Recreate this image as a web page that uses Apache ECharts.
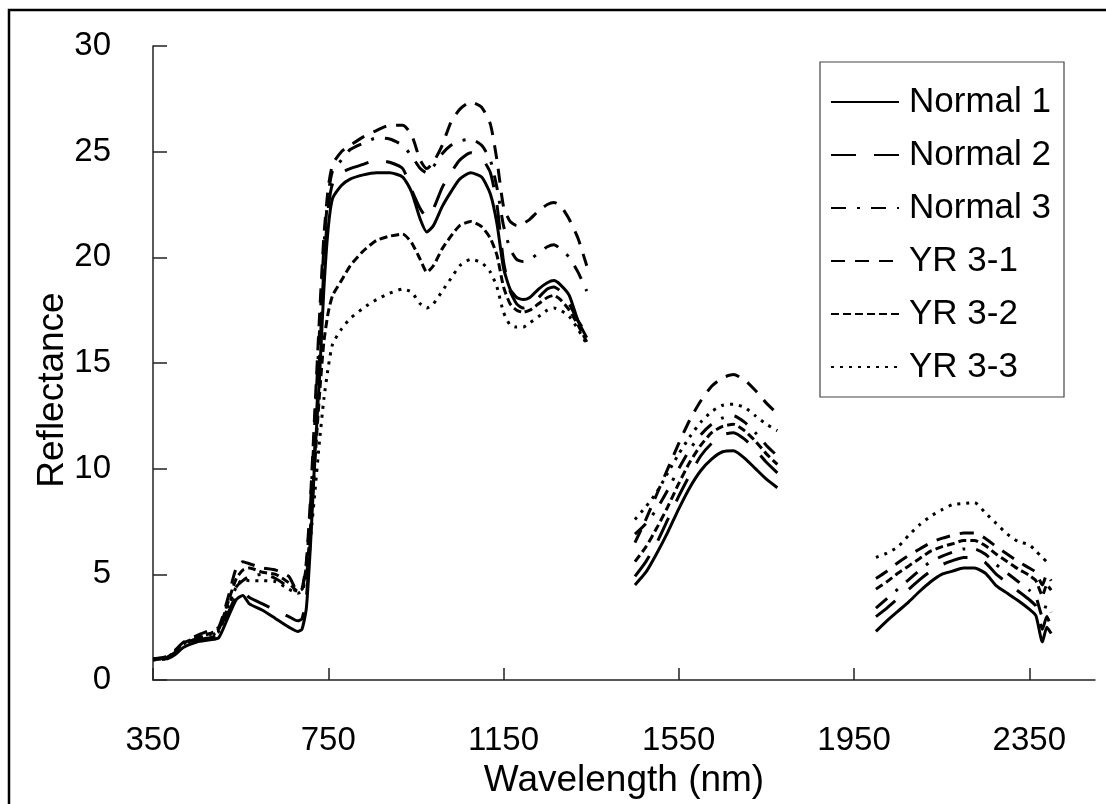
<!DOCTYPE html>
<html>
<head>
<meta charset="utf-8">
<script src="https://cdn.jsdelivr.net/npm/echarts@6/dist/echarts.min.js"></script>
<style>
html,body{margin:0;padding:0;background:#fff;}
#chart{width:1106px;height:804px;}
</style>
</head>
<body>
<div id="chart"></div>
<script>
// ---- Data ----
const seriesNames = ['Normal 1', 'Normal 2', 'Normal 3', 'YR 3-1', 'YR 3-2', 'YR 3-3'];
const xTicks = [350, 750, 1150, 1550, 1950, 2350];
const yTicks = [0, 5, 10, 15, 20, 25, 30];

// wavelengths (nm) of the three measured segments
const wlA = [350,380,400,420,450,480,500,520,540,555,570,600,630,660,680,690,700,710,720,730,740,750,760,780,800,830,860,890,920,940,960,975,990,1010,1030,1050,1075,1100,1120,1135,1150,1165,1180,1195,1210,1230,1250,1265,1280,1300,1320,1340];
const wlB = [1450,1475,1500,1525,1550,1575,1600,1625,1650,1675,1700,1725,1750,1775];
const wlC = [2000,2025,2050,2075,2100,2125,2150,2175,2200,2225,2250,2275,2300,2325,2350,2365,2380,2390,2400];

// Normal 1
const normal1A = [1.0,1.0,1.2,1.55,1.8,1.9,2.0,2.9,3.8,4.0,3.6,3.3,2.9,2.5,2.3,2.4,3.4,6.6,10.8,14.3,18.5,21.4,22.8,23.4,23.7,23.9,24.0,24.0,23.8,23.1,21.8,21.2,21.5,22.4,23.1,23.7,24.0,23.8,23.0,21.6,19.5,18.5,18.1,18.0,18.1,18.5,18.8,18.9,18.7,18.2,17.0,16.2];
const normal1B = [4.5,5.1,6.0,7.0,8.1,9.1,9.9,10.45,10.8,10.85,10.5,10.0,9.5,9.1];
const normal1C = [2.3,2.8,3.25,3.7,4.2,4.65,5.0,5.15,5.3,5.3,5.05,4.45,4.1,3.75,3.35,3.05,1.8,2.5,2.2];
// Normal 2
const normal2A = [1.0,1.05,1.3,1.65,1.9,2.0,2.15,3.1,4.0,4.2,3.9,3.6,3.3,3.0,2.8,2.9,3.9,7.0,11.3,15.2,19.5,22.3,23.5,24.0,24.2,24.4,24.6,24.5,24.2,23.2,22.3,21.9,22.3,23.3,24.0,24.6,24.95,24.7,24.0,22.5,19.8,18.4,17.8,17.6,17.7,18.1,18.5,18.6,18.4,17.8,17.0,16.4];
const normal2B = [4.9,5.6,6.5,7.6,8.7,9.7,10.6,11.2,11.6,11.7,11.4,10.9,10.3,9.8];
const normal2C = [3.0,3.4,3.85,4.3,4.75,5.15,5.45,5.65,5.8,5.8,5.55,5.0,4.6,4.2,3.8,3.5,2.4,3.0,2.5];
// Normal 3
const normal3A = [1.0,1.05,1.35,1.7,1.95,2.1,2.3,3.4,4.4,4.7,4.9,5.0,4.8,4.4,4.2,4.3,5.4,8.5,12.5,16.5,20.5,23.0,24.1,24.6,25.1,25.4,25.65,25.6,25.3,24.8,24.2,24.0,24.3,24.9,25.3,25.5,25.6,25.3,24.6,23.3,21.5,20.4,19.9,19.8,19.9,20.2,20.5,20.6,20.4,20.0,19.3,18.4];
const normal3B = [6.9,7.4,8.1,9.0,10.0,10.9,11.6,12.1,12.4,12.5,12.2,11.7,11.1,10.6];
const normal3C = [3.4,3.85,4.3,4.75,5.2,5.6,5.85,6.05,6.2,6.2,5.95,5.45,5.05,4.65,4.25,3.95,3.0,3.6,3.2];
// YR 3-1
const yr31A = [1.0,1.1,1.4,1.8,2.1,2.35,2.5,3.8,5.3,5.6,5.5,5.3,5.2,4.9,4.2,4.3,5.6,8.8,13.0,17.2,21.0,23.3,24.4,25.0,25.3,25.7,26.0,26.25,26.25,25.8,24.6,24.2,24.5,25.3,26.4,27.0,27.35,27.1,26.3,24.6,22.4,21.7,21.5,21.6,21.8,22.2,22.5,22.6,22.45,21.8,20.9,19.6];
const yr31B = [6.5,7.6,8.8,10.0,11.2,12.3,13.2,13.9,14.3,14.45,14.2,13.7,13.1,12.6];
const yr31C = [4.8,5.15,5.55,5.9,6.2,6.5,6.7,6.85,6.95,6.95,6.7,6.3,5.95,5.6,5.3,5.1,4.5,5.0,4.7];
// YR 3-2
const yr32A = [0.95,1.05,1.35,1.75,2.0,2.2,2.4,3.6,4.8,5.2,5.3,5.1,5.0,4.6,4.2,4.3,5.0,7.4,10.5,13.5,16.0,17.4,18.2,18.9,19.6,20.3,20.8,21.0,21.1,20.7,19.9,19.3,19.6,20.4,21.0,21.5,21.7,21.45,20.9,20.1,18.6,17.8,17.5,17.4,17.5,17.8,18.1,18.2,18.0,17.5,16.8,16.0];
const yr32B = [5.6,6.3,7.2,8.2,9.3,10.3,11.1,11.7,12.0,12.1,11.8,11.3,10.7,10.2];
const yr32C = [4.3,4.65,5.05,5.4,5.75,6.1,6.3,6.45,6.6,6.6,6.35,5.95,5.6,5.25,4.95,4.7,4.0,4.5,4.25];
// YR 3-3
const yr33A = [0.95,1.0,1.3,1.7,1.95,2.15,2.3,3.4,4.4,4.75,4.7,4.7,4.65,4.3,4.1,4.2,4.9,6.8,9.0,11.3,13.3,14.8,15.9,16.6,17.1,17.6,18.0,18.3,18.5,18.35,17.8,17.6,17.8,18.4,19.0,19.6,19.9,19.75,19.3,18.6,17.4,16.8,16.7,16.7,16.9,17.2,17.5,17.6,17.5,17.2,16.6,15.9];
const yr33B = [7.6,8.2,8.9,9.8,10.7,11.5,12.2,12.7,13.0,13.05,12.9,12.5,12.1,11.8];
const yr33C = [5.8,6.0,6.3,6.85,7.35,7.75,8.05,8.3,8.35,8.4,7.9,7.4,6.9,6.55,6.4,6.1,5.8,5.6,5.5];

// ---- Build ----
const FONT = '"Liberation Sans", Arial, sans-serif';
function build(a, b, c) {
  const out = [];
  wlA.forEach((w, i) => out.push([w, a[i]]));
  out.push([1400, '-']);
  wlB.forEach((w, i) => out.push([w, b[i]]));
  out.push([1890, '-']);
  wlC.forEach((w, i) => out.push([w, c[i]]));
  return out;
}
const seriesData = [
  build(normal1A, normal1B, normal1C),
  build(normal2A, normal2B, normal2C),
  build(normal3A, normal3B, normal3C),
  build(yr31A, yr31B, yr31C),
  build(yr32A, yr32B, yr32C),
  build(yr33A, yr33B, yr33C)
];
const dashes = ['solid', [25, 18], [15, 11, 3, 11], [14, 10], [8, 4], [3, 6]];

const chart = echarts.init(document.getElementById('chart'), null, {renderer: 'canvas'});
chart.setOption({
  backgroundColor: '#fff',
  animation: false,
  grid: {left: 153, right: 11, top: 46, bottom: 124, containLabel: false},
  xAxis: {
    type: 'value', min: 350, max: 2500, interval: 400,
    name: 'Wavelength (nm)', nameLocation: 'middle', nameGap: 80,
    nameTextStyle: {fontSize: 37, fontFamily: FONT, color: '#000'},
    axisLine: {show: true, lineStyle: {color: '#222', width: 1.5}},
    axisTick: {show: true, inside: true, length: 12, lineStyle: {color: '#222', width: 1.5}, customValues: xTicks},
    axisLabel: {fontSize: 33, fontFamily: FONT, color: '#000', margin: 44, customValues: xTicks,
                formatter: v => String(v)},
    splitLine: {show: false}
  },
  yAxis: {
    type: 'value', min: 0, max: 30, interval: 5,
    axisLine: {show: true, lineStyle: {color: '#222', width: 1.5}},
    axisTick: {show: true, inside: true, length: 14, lineStyle: {color: '#222', width: 1.5}, customValues: yTicks},
    axisLabel: {fontSize: 33, fontFamily: FONT, color: '#000', margin: 42, customValues: yTicks,
                formatter: v => String(v)},
    splitLine: {show: false}
  },
  legend: {
    orient: 'vertical', left: 825, top: 77, z: 10,
    itemWidth: 68, itemHeight: 20, itemGap: 13,
    itemStyle: {opacity: 0},
    textStyle: {fontSize: 35, fontFamily: FONT, color: '#000', lineHeight: 40, padding: [0, 0, 0, 5]},
    data: seriesNames
  },
  graphic: [
    {type: 'polyline', z: 0, shape: {points: [[9, 804], [9, 10], [1106, 10]]}, style: {stroke: '#000', lineWidth: 2.5, fill: null}},
    {type: 'rect', z: 5, shape: {x: 820, y: 62, width: 244, height: 335}, style: {fill: '#fff', stroke: '#444', lineWidth: 1.2}},
    {type: 'text', z: 5, x: 53, y: 390, rotation: Math.PI / 2,
     style: {text: 'Reflectance', fontSize: 37, fontFamily: FONT, fill: '#000', align: 'center', verticalAlign: 'middle'}}
  ],
  series: seriesNames.map((name, i) => ({
    name: name, type: 'line', symbol: 'none', symbolSize: 0, smooth: 0.2, connectNulls: false,
    lineStyle: {color: '#000', width: 3, type: dashes[i]},
    itemStyle: {color: '#000'},
    data: seriesData[i]
  }))
});
</script>
</body>
</html>
